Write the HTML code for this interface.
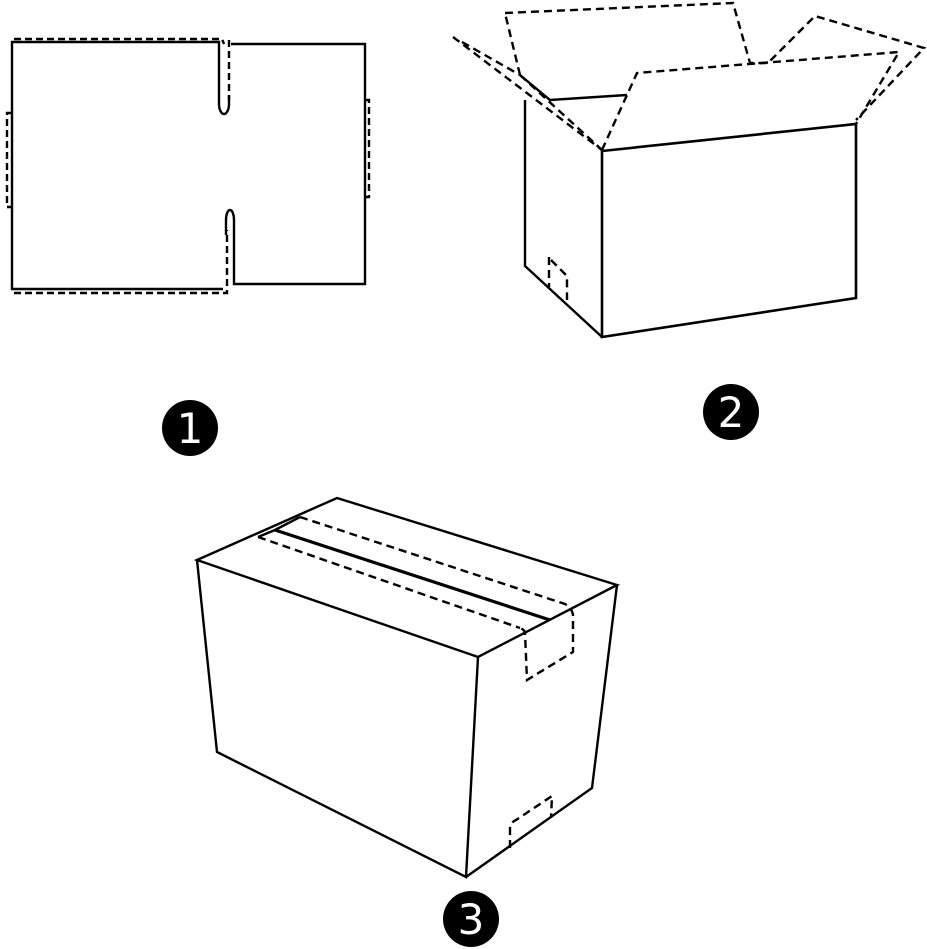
<!DOCTYPE html>
<html><head><meta charset="utf-8"><style>html,body{margin:0;padding:0;background:#fff}svg{display:block}</style></head>
<body>
<svg width="927" height="949" viewBox="0 0 927 949" xmlns="http://www.w3.org/2000/svg">
<g fill="none" stroke="#000" stroke-width="2.4" stroke-linejoin="miter">
<!-- Drawing 1 -->
<path d="M223,289 L12,289 L12,42 L219,42 L219,104 A5,10 0 0 0 229,104 L229,95"/>
<path d="M231,44 L365,44 L365,284 L234,284 L234,220 A4,10 0 0 0 226,220 L226,235"/>
<g stroke-dasharray="7,4">
<path d="M14,39 L222,39 L224,44"/>
<path d="M14,293 L227,293 L227,230"/>
<path d="M229,40 L229,100"/>
<path d="M12,113 L7,113 L7,207 L12,207"/>
<path d="M365,100 L369,100 L369,197 L365,197"/>
</g>
<!-- Drawing 2 -->
<path d="M602,151 L856,124 L856,298 L602,337 Z" stroke-width="2.6"/>
<path d="M525,100 L525,266 L602,337"/>
<path d="M520,75 L550,100 L627,95"/>
<g stroke-dasharray="8,5">
<path d="M453,37 L602,150"/>
<path d="M462,42 L520,75"/>
<path d="M520,75 L602,150"/>
<path d="M505,13 L733,3 L750,63 L768,63 L815,16 L924,48 L856,120"/>
<path d="M602,150 L637,73 L899,52 L856,124"/>
<path d="M520,75 L505,13"/>
<path d="M549,257 L549,287"/>
<path d="M551,260 L567,276 L567,300"/>
</g>
<!-- Drawing 3 -->
<path d="M197,560 L337,498 L617,585 L478,657 Z"/>
<path d="M197,560 L217,752 L466,877 L478,657"/>
<path d="M466,877 L592,788 L617,585"/>
<path d="M275,530 L550,620" stroke-width="3.2"/>
<path d="M258,537 L275,530 L300,517"/>
<g stroke-dasharray="8,5">
<path d="M300,517 L565,604 Q572,608 573,615 L573,652 L527,680 L525,633 Q525,630 520,628"/>
<path d="M258,537 L520,628"/>
<path d="M510,848 L510,828 Q511,822 516,820 L552,796 L551,818"/>
</g>
</g>
<g font-family="DejaVu Sans, Liberation Sans, sans-serif" font-size="42" fill="#fff" text-anchor="middle">
<circle cx="190" cy="428" r="28" fill="#000"/>
<text x="190" y="443">1</text>
<circle cx="731" cy="412" r="28" fill="#000"/>
<text x="731" y="427">2</text>
<circle cx="471" cy="919" r="28" fill="#000"/>
<text x="471" y="934">3</text>
</g>
</svg>
</body></html>
